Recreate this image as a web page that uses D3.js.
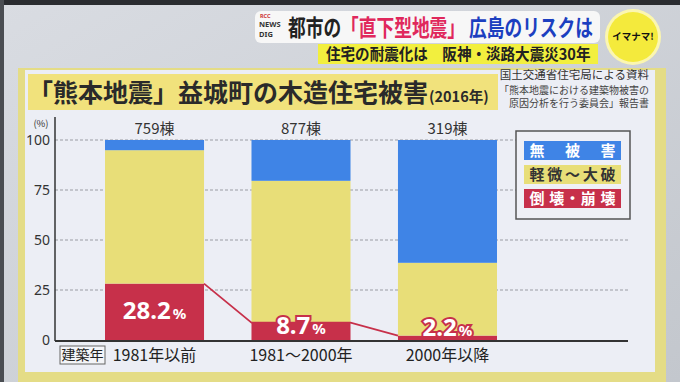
<!DOCTYPE html>
<html><head><meta charset="utf-8">
<script src="https://cdn.jsdelivr.net/npm/d3@7"></script>
<style>
html,body{margin:0;padding:0;background:#cdd0d6;}
svg{display:block;font-family:"Noto Sans CJK JP","Noto Sans",sans-serif;}
</style></head>
<body>
<svg id="c" width="680" height="382"></svg>
<script>
const categories = ["1981年以前", "1981～2000年", "2000年以降"];
const counts = [759, 877, 319];
const collapse = [28.2, 8.7, 2.2];       // 倒壊・崩壊
const minorSevere = [66.7, 70.9, 36.4];  // 軽微～大破
const noDamage = [5.1, 20.4, 61.4];      // 無被害
const yTicks = [0, 25, 50, 75, 100];
const seriesNames = ["倒 壊・崩 壊", "軽 微 ～ 大 破", "無　被　害"];
const seriesKeys = ["collapse", "minorSevere", "noDamage"];
const colors = ["#c7304a", "#e8de78", "#3f84e6"];

const svg = d3.select("#c");
// background
const defs = svg.append("defs");
const bg = defs.append("linearGradient").attr("id","bg").attr("x1","0").attr("y1","0").attr("x2","1").attr("y2","1");
bg.append("stop").attr("offset","0").attr("stop-color","#d9dce2");
bg.append("stop").attr("offset","1").attr("stop-color","#c3c7cd");
svg.append("rect").attr("width",680).attr("height",382).attr("fill","url(#bg)");
svg.append("rect").attr("width",680).attr("height",5).attr("fill","#2a2c30");
svg.append("rect").attr("width",4).attr("height",382).attr("fill","#4a4d52");

// header banner
svg.append("rect").attr("x",255).attr("y",11).attr("width",345).attr("height",32).attr("rx",6).attr("fill","#f7f7f7");
const logo = svg.append("g").attr("font-weight","bold").attr("fill","#333").attr("font-family","'Noto Sans',sans-serif");
logo.append("text").attr("x",260).attr("y",18).attr("font-size",5.5).attr("fill","#c33").text("RCC");
logo.append("text").attr("x",259).attr("y",27).attr("font-size",7.5).text("NEWS");
logo.append("text").attr("x",259).attr("y",36.5).attr("font-size",7.5).text("DIG");
const h = svg.append("text").attr("transform","translate(288,36) scale(0.77,1)").attr("font-size",23).attr("font-weight","bold");
h.append("tspan").attr("fill","#222").text("都市の");
h.append("tspan").attr("fill","#e0285c").text("「直下型地震」");
h.append("tspan").attr("fill","#1c3fc0").text(" 広島のリスクは");
svg.append("rect").attr("x",318).attr("y",44).attr("width",280).attr("height",20).attr("fill","#f2ef3e");
svg.append("text").attr("transform","translate(326,60) scale(0.91,1)").attr("font-size",16).attr("font-weight","bold").attr("fill","#222")
  .text("住宅の耐震化は　阪神・淡路大震災30年");
// lemon logo
svg.append("circle").attr("cx",633).attr("cy",37).attr("r",28).attr("fill","#fbf6b0");
svg.append("circle").attr("cx",633).attr("cy",37).attr("r",25).attr("fill","#f4ea3c");
svg.append("text").attr("x",633).attr("y",40).attr("text-anchor","middle").attr("font-size",9.5).attr("font-weight","bold").attr("fill","#111")
  .text("イマナマ!");

// panel
svg.append("rect").attr("x",18).attr("y",68).attr("width",648).attr("height",314).attr("fill","#e4dc86");
svg.append("rect").attr("x",25).attr("y",70).attr("width",630).attr("height",302).attr("fill","#eceef5");

// title
svg.append("rect").attr("x",28).attr("y",74).attr("width",470).attr("height",36).attr("fill","#f1e27c");
svg.append("text").attr("x",28).attr("y",102).attr("font-weight","bold").attr("fill","#2a2a2a")
  .attr("font-size",25).text("「熊本地震」益城町の木造住宅被害");
svg.append("text").attr("x",429).attr("y",102).attr("font-weight","bold").attr("fill","#2a2a2a")
  .attr("font-size",14.5).text("(2016年)");
// source
const src = ["国土交通省住宅局による資料","「熊本地震における建築物被害の","原因分析を行う委員会」報告書"];
svg.selectAll("text.src").data(src).join("text").attr("class","src")
  .attr("x",649).attr("y",(d,i)=>[78.5,93.5,107][i]).attr("text-anchor","end")
  .attr("font-size",(d,i)=>i===0?11.5:10).attr("fill",(d,i)=>i===0?"#333":"#444").text(d=>d);

// chart
const x0 = 55, x1 = 628;
const y = d3.scaleLinear().domain([0,100]).range([340,140]);
const bx = d3.scaleBand().domain(categories).range([105, 105 + 2*146.5 + 99]).paddingInner(0.324).paddingOuter(0);

// gridlines
svg.append("g").selectAll("line").data(yTicks.filter(d=>d>0)).join("line")
  .attr("x1",x0).attr("x2",x1).attr("y1",d=>y(d)).attr("y2",d=>y(d))
  .attr("stroke","#9a9ca3").attr("stroke-width",1).attr("stroke-dasharray","3,2");

// y axis
const yAxis = d3.axisLeft(y).tickValues(yTicks).tickSize(0).tickPadding(5);
const ya = svg.append("g").attr("transform",`translate(${x0},0)`).call(yAxis);
ya.select(".domain").remove();
ya.selectAll("text").attr("font-size",14).attr("fill","#333").attr("font-family","'Noto Sans',sans-serif");
svg.append("line").attr("x1",x0).attr("x2",x0).attr("y1",117).attr("y2",341).attr("stroke","#333").attr("stroke-width",1.5);
svg.append("text").attr("x",41).attr("y",127).attr("text-anchor","middle").attr("font-size",9.5).attr("fill","#333").text("(%)");

// stacks
const rows = categories.map((c,i)=>({cat:c, collapse:collapse[i], minorSevere:minorSevere[i], noDamage:noDamage[i]}));
const stack = d3.stack().keys(seriesKeys)(rows);
svg.append("g").selectAll("g").data(stack).join("g").attr("fill",(d,i)=>colors[i])
  .selectAll("rect").data(d=>d).join("rect")
  .attr("x",d=>bx(d.data.cat)).attr("width",bx.bandwidth())
  .attr("y",d=>y(Math.min(100,d[1]))).attr("height",d=>y(d[0])-y(Math.min(100,d[1])));

// connecting line
const pts = [];
rows.forEach((r,i)=>{
  const yy = y(r.collapse);
  if(i>0) pts.push([bx(r.cat), yy]);
  if(i<rows.length-1) pts.push([bx(r.cat)+bx.bandwidth(), yy]);
});
svg.append("path").attr("d",d3.line()(pts)).attr("fill","none").attr("stroke","#c7304a").attr("stroke-width",1.8);

// baseline
svg.append("line").attr("x1",x0).attr("x2",x1).attr("y1",341).attr("y2",341).attr("stroke","#333").attr("stroke-width",2);

// counts
svg.selectAll("text.cnt").data(counts).join("text").attr("class","cnt")
  .attr("x",(d,i)=>bx(categories[i])+bx.bandwidth()/2).attr("y",134).attr("text-anchor","middle")
  .attr("font-size",15).attr("fill","#333").text(d=>d+"棟");

// percentage labels
const labY = [319, 334, 336];
const pl = svg.selectAll("text.pct").data(collapse).join("text").attr("class","pct")
  .attr("x",(d,i)=>bx(categories[i])+bx.bandwidth()/2).attr("y",(d,i)=>labY[i]).attr("text-anchor","middle")
  .attr("font-weight","bold").attr("fill","#fff")
  .attr("stroke",(d,i)=>i>0?"#c7304a":"none").attr("stroke-width",4).attr("paint-order","stroke")
  .attr("font-family","'Noto Sans',sans-serif");
pl.append("tspan").attr("font-size",24).text(d=>d.toFixed(1));
pl.append("tspan").attr("font-size",15).attr("dx",2).text("%");

// x labels
svg.selectAll("text.xl").data(categories).join("text").attr("class","xl")
  .attr("x",d=>bx(d)+bx.bandwidth()/2).attr("y",361).attr("text-anchor","middle")
  .attr("font-size",16).attr("fill","#222").text(d=>d);
svg.append("rect").attr("x",60).attr("y",346).attr("width",45).attr("height",18).attr("fill","#f4f5f8").attr("stroke","#666").attr("stroke-width",1);
svg.append("text").attr("x",82.5).attr("y",360).attr("text-anchor","middle").attr("font-size",14).attr("fill","#222").text("建築年");

// legend
svg.append("rect").attr("x",516).attr("y",131).attr("width",114).attr("height",88).attr("fill","#eff0f6").attr("stroke","#555").attr("stroke-width",1.5);
const legOrder = [2,1,0];
const lg = svg.append("g").selectAll("g").data(legOrder).join("g")
  .attr("transform",(d,i)=>`translate(524,${141+i*24})`);
lg.append("rect").attr("width",97).attr("height",19).attr("fill",d=>colors[d]);
lg.append("text").attr("x",48.5).attr("y",15).attr("text-anchor","middle").attr("font-size",15).attr("font-weight","bold")
  .attr("fill",d=>d===1?"#333":"#fff").attr("textLength",86).attr("lengthAdjust","spacing").text(d=>seriesNames[d]);
</script>
</body></html>
